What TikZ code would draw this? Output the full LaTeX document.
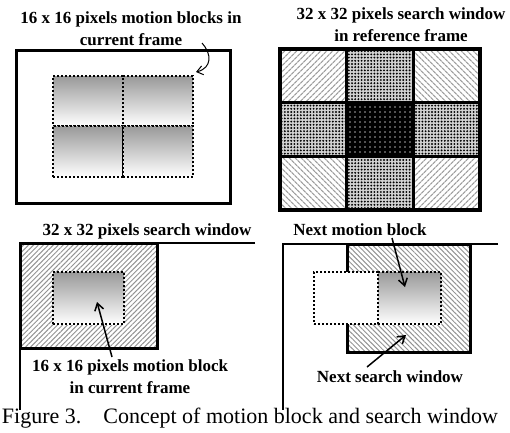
\documentclass[tikz,border=0pt]{standalone}
\usepackage{fontspec}
\setmainfont{Liberation Serif}
\usetikzlibrary{patterns, patterns.meta, arrows.meta}

\begin{document}
\begin{tikzpicture}[
    x=1pt, y=-1pt,
    head/.style={font=\fontsize{17}{22}\selectfont\bfseries, align=center, inner sep=0pt},
    frame/.style={draw, line width=2.5pt},
    mblock/.style={draw, line width=2pt, dash pattern=on 2pt off 2pt, top color=gray!80, bottom color=white, inner sep=0pt, anchor=north west},
    blank/.style={draw, line width=2pt, dash pattern=on 2pt off 2pt, fill=white, inner sep=0pt, anchor=north west},
    cell/.style={draw, line width=3.5pt, minimum width=66.7pt, minimum height=53.7pt, inner sep=0pt},
    hatchR/.style={pattern={Lines[angle=45, distance=4pt, line width=1.3pt]}, pattern color=gray!75},
    hatchL/.style={pattern={Lines[angle=-45, distance=4pt, line width=1.3pt]}, pattern color=gray!75},
    dotty/.style={preaction={fill=gray!35}, pattern={Dots[distance=3.2pt, radius=1.05pt]}, pattern color=black},
    core/.style={preaction={fill=black}, pattern={Dots[distance=5pt, radius=0.8pt]}, pattern color=gray!70},
    win/.style={draw, line width=2.5pt, inner sep=0pt, anchor=north west, pattern color=gray!85},
    arrow/.style={-{Straight Barb[length=7pt, width=9pt]}, line width=1.5pt}
  ]
    \useasboundingbox (0,0) rectangle (510,432);

    % Motion blocks in current frame
    \node[head] (t1) at (131, 29) {16 x 16 pixels motion blocks in\\current frame};
    \node[frame, minimum width=214pt, minimum height=153pt, inner sep=0pt, anchor=north west] (cur) at (15, 49) {};
    \node[mblock, minimum width=70pt, minimum height=50pt] (m1) at (52, 75) {};
    \node[mblock, minimum width=70pt, minimum height=50pt] (m2) at (122, 75) {};
    \node[mblock, minimum width=70pt, minimum height=51pt] (m3) at (52, 125) {};
    \node[mblock, minimum width=70pt, minimum height=51pt] (m4) at (122, 125) {};
    \coordinate (cA) at (202, 43);
    \coordinate (cB) at (196, 72);
    \draw[-{Straight Barb[length=6pt, width=9pt]}, line width=1pt] (cA) .. controls (212, 54) and (212, 68) .. (cB);

    % Search window in reference frame
    \node[head] (t2) at (401, 25) {32 x 32 pixels search window\\in reference frame};
    \node[cell, hatchR] (c11) at (313.3, 75.8) {};
    \node[cell, dotty] (c12) at (380, 75.8) {};
    \node[cell, hatchL] (c13) at (446.7, 75.8) {};
    \node[cell, dotty] (c21) at (313.3, 129.5) {};
    \node[cell, core] (c22) at (380, 129.5) {};
    \node[cell, dotty] (c23) at (446.7, 129.5) {};
    \node[cell, hatchL] (c31) at (313.3, 183.2) {};
    \node[cell, dotty] (c32) at (380, 183.2) {};
    \node[cell, hatchR] (c33) at (446.7, 183.2) {};

    % Search window around the block
    \node[head] (t3) at (147, 231) {32 x 32 pixels search window};
    \node[win, pattern={Lines[angle=45, distance=3.5pt, line width=1pt]}, minimum width=137pt, minimum height=105pt] (w3) at (20, 243) {};
    \draw[line width=2.5pt] (255, 243) -| (20, 410);
    \node[mblock, minimum width=71pt, minimum height=52pt] (b3) at (52, 271) {};
    \node[head] (t4) at (130, 377) {16 x 16 pixels motion block\\in current frame};
    \coordinate (a3) at (112, 357);
    \coordinate (p3) at (97, 302);
    \draw[arrow] (a3) -- (p3);

    % Next block and next search window
    \node[win, pattern={Lines[angle=-45, distance=3.5pt, line width=1pt]}, minimum width=123pt, minimum height=108pt] (w4) at (347, 244) {};
    \draw[line width=2.5pt] (498, 244) -| (283, 410);
    \node[blank, minimum width=64pt, minimum height=52pt] (old) at (313, 271) {};
    \node[mblock, minimum width=63pt, minimum height=52pt] (nxt) at (377, 271) {};
    \node[head] (t5) at (360, 230) {Next motion block};
    \node[head] (t6) at (390, 377) {Next search window};
    \coordinate (a4) at (392, 238);
    \coordinate (p4) at (405, 287);
    \coordinate (a5) at (367, 367);
    \coordinate (p5) at (406, 335);
    \draw[arrow] (a4) -- (p4);
    \draw[arrow] (a5) -- (p5);

    % Caption
    \node[font=\fontsize{22}{24}\selectfont, inner sep=0pt] (cap) at (250, 418) {Figure 3.\hspace{22pt}Concept of motion block and search window};
  \end{tikzpicture}
\end{document}
